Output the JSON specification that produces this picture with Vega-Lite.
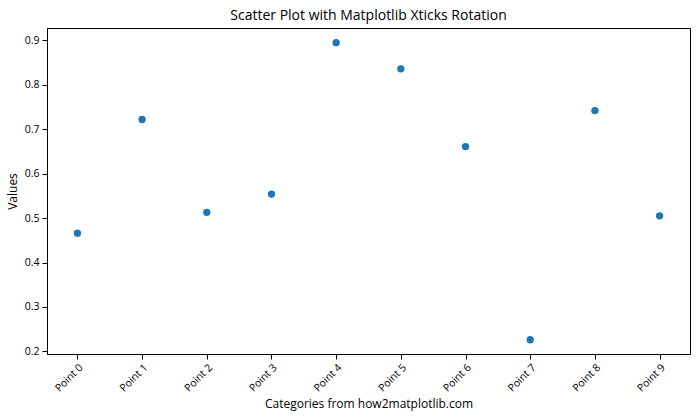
{
  "$schema": "https://vega.github.io/schema/vega-lite/v6.json",
  "autosize": "none",
  "width": 643,
  "height": 326,
  "padding": {"left": 47, "top": 28, "right": 10, "bottom": 66},
  "background": "white",
  "title": {
    "text": "Scatter Plot with Matplotlib Xticks Rotation",
    "font": "Open Sans",
    "fontSize": 14,
    "fontWeight": "normal",
    "color": "black",
    "anchor": "middle",
    "offset": 5
  },
  "config": {
    "view": {"stroke": "black", "strokeWidth": 1},
    "axis": {
      "labelFont": "Open Sans",
      "labelFontSize": 10.5,
      "labelColor": "black",
      "titleFont": "Open Sans",
      "titleFontSize": 12,
      "titleFontWeight": "normal",
      "titleColor": "black",
      "domainColor": "black",
      "tickColor": "black",
      "tickSize": 5,
      "grid": false
    }
  },
  "data": {
    "values": [
      {"category": "Point 0", "value": 0.466},
      {"category": "Point 1", "value": 0.722},
      {"category": "Point 2", "value": 0.513},
      {"category": "Point 3", "value": 0.554},
      {"category": "Point 4", "value": 0.895},
      {"category": "Point 5", "value": 0.836},
      {"category": "Point 6", "value": 0.661},
      {"category": "Point 7", "value": 0.226},
      {"category": "Point 8", "value": 0.742},
      {"category": "Point 9", "value": 0.505}
    ]
  },
  "mark": {"type": "circle", "size": 54, "color": "#1f77b4", "opacity": 1},
  "encoding": {
    "x": {
      "field": "category",
      "type": "ordinal",
      "scale": {"type": "point", "padding": 0.47},
      "axis": {
        "title": "Categories from how2matplotlib.com",
        "labelAngle": -45,
        "labelAlign": "right",
        "labelBaseline": "top",
        "labelPadding": 3,
        "titlePadding": 5
      }
    },
    "y": {
      "field": "value",
      "type": "quantitative",
      "scale": {"domain": [0.194, 0.928], "nice": false, "zero": false},
      "axis": {
        "title": "Values",
        "values": [0.2, 0.3, 0.4, 0.5, 0.6, 0.7, 0.8, 0.9],
        "format": ".1f",
        "labelPadding": 3,
        "titlePadding": 5
      }
    }
  }
}
